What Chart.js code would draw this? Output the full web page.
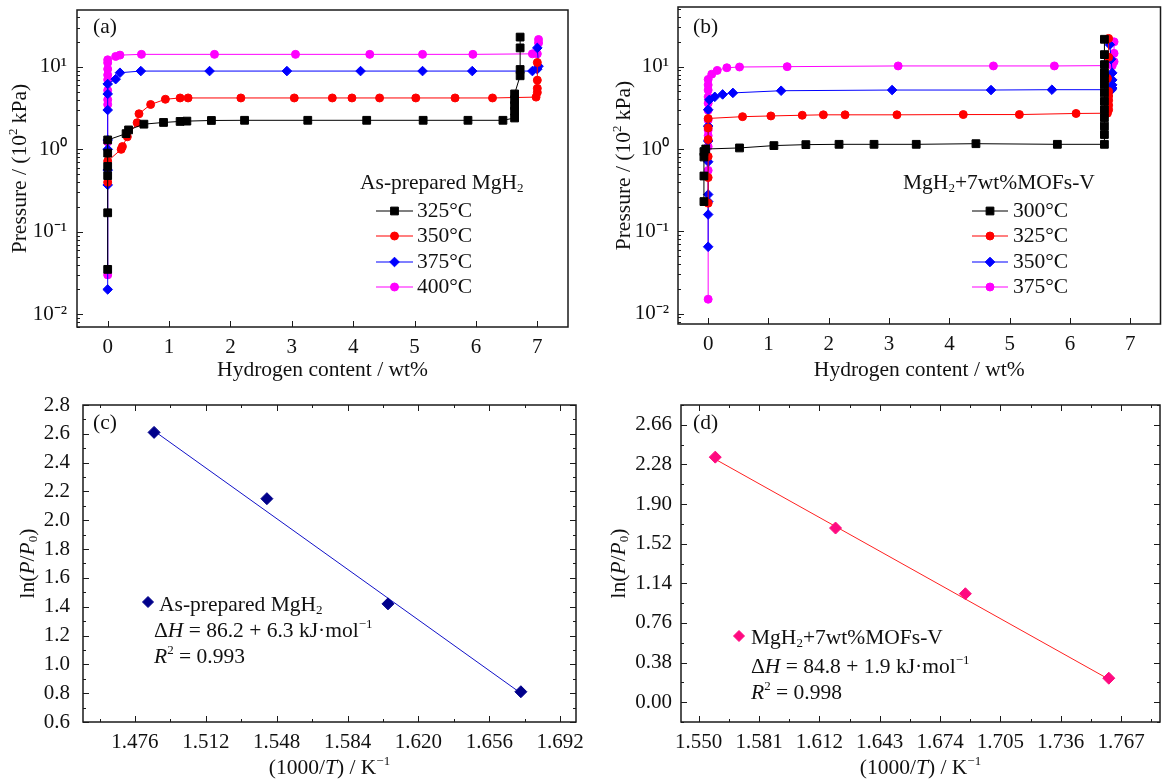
<!DOCTYPE html>
<html>
<head>
<meta charset="utf-8">
<title>PCT curves and van't Hoff plots</title>
<script src="https://cdn.jsdelivr.net/npm/chart.js@4.4.0/dist/chart.umd.min.js"></script>
<style>
  html, body { margin: 0; padding: 0; background: #fff; }
  #wrap { position: relative; width: 1167px; height: 779px; overflow: hidden; }
  .panel { position: absolute; }
  #pa { left: 0; top: 0; width: 583px; height: 390px; }
  #pb { left: 590px; top: 0; width: 577px; height: 390px; }
  #pc { left: 0; top: 390px; width: 583px; height: 389px; }
  #pd { left: 590px; top: 390px; width: 577px; height: 389px; }
</style>
</head>
<body>
<div id="wrap">
  <div class="panel" id="pa"><canvas id="chartA"></canvas></div>
  <div class="panel" id="pb"><canvas id="chartB"></canvas></div>
  <div class="panel" id="pc"><canvas id="chartC"></canvas></div>
  <div class="panel" id="pd"><canvas id="chartD"></canvas></div>
</div>
<script>
// (a) As-prepared MgH2, hydrogen content (wt%) vs pressure (10^2 kPa)
const aLabels = ['325°C', '350°C', '375°C', '400°C'];
const a325x = [0, 0, 0, 0, 0, 0, 0.30, 0.34, 0.59, 0.91, 1.18, 1.29, 1.69, 2.23, 3.26, 4.22, 5.14, 5.87, 6.44, 6.63, 6.63, 6.63, 6.63, 6.63, 6.72, 6.72, 6.72, 6.72];
const a325y = [0.035, 0.17, 0.48, 0.62, 0.9, 1.3, 1.55, 1.72, 2.02, 2.12, 2.18, 2.2, 2.24, 2.25, 2.25, 2.25, 2.25, 2.25, 2.25, 2.4, 2.9, 3.4, 4.0, 4.7, 7.8, 9.3, 17, 23];
const a350x = [0, 0, 0.22, 0.24, 0.32, 0.48, 0.51, 0.70, 0.94, 1.18, 1.31, 2.17, 3.04, 3.66, 3.98, 4.43, 5.02, 5.66, 6.27, 6.98, 7.0, 7.0, 7.0, 7.0];
const a350y = [0.4, 0.72, 1.0, 1.08, 1.42, 2.1, 2.7, 3.5, 4.05, 4.2, 4.2, 4.2, 4.2, 4.2, 4.2, 4.2, 4.2, 4.2, 4.2, 4.3, 4.9, 5.5, 6.9, 11.3];
const a375x = [0, 0, 0, 0, 0, 0, 0, 0, 0.13, 0.20, 0.54, 1.66, 2.92, 4.12, 5.13, 5.94, 6.92, 7.0, 7.02, 7.0];
const a375y = [0.02, 0.37, 0.56, 1.0, 1.3, 3.0, 4.7, 6.2, 7.1, 8.5, 8.9, 8.9, 8.9, 8.9, 8.9, 8.9, 8.9, 9.4, 10.2, 17];
const a400x = [0, 0, 0, 0, 0, 0, 0, 0, 0, 0, 0.13, 0.20, 0.55, 1.74, 3.06, 4.27, 5.13, 5.95, 6.92, 7.0, 7.02, 7.02];
const a400y = [0.03, 1.23, 3.5, 4.0, 5.2, 7.0, 8.0, 9.4, 11.2, 12.2, 13.4, 13.9, 14.2, 14.2, 14.2, 14.2, 14.2, 14.2, 14.4, 14.4, 19.5, 21.5];

// (b) MgH2+7wt%MOFs-V
const bLabels = ['300°C', '325°C', '350°C', '375°C'];
const b300x = [-0.07, -0.07, -0.07, -0.07, -0.04, 0.52, 1.09, 1.62, 2.17, 2.75, 3.45, 4.44, 5.79, 6.57, 6.57, 6.57, 6.57, 6.57, 6.57, 6.57, 6.57, 6.57, 6.57, 6.57, 6.57, 6.57];
const b300y = [0.23, 0.47, 0.8, 0.93, 1.0, 1.03, 1.1, 1.13, 1.14, 1.14, 1.14, 1.16, 1.14, 1.14, 1.5, 1.9, 2.4, 3.0, 3.8, 4.8, 6.0, 7.3, 8.4, 10.6, 14, 21.5];
const b325x = [0, 0, 0, 0, 0, 0, 0.57, 1.04, 1.56, 1.91, 2.27, 3.13, 4.23, 5.16, 6.10, 6.62, 6.64, 6.64, 6.64, 6.64, 6.64, 6.62, 6.64, 6.64];
const b325y = [0.22, 0.45, 0.81, 1.3, 1.8, 2.35, 2.47, 2.52, 2.57, 2.6, 2.6, 2.6, 2.62, 2.62, 2.7, 2.72, 3.0, 3.4, 3.9, 4.4, 5.0, 7.2, 13, 22];
const b350x = [0, 0, 0, 0, 0, 0, 0, 0, 0.02, 0.11, 0.24, 0.41, 1.21, 3.05, 4.69, 5.70, 6.69, 6.70, 6.70, 6.70, 6.70, 6.68, 6.66];
const b350y = [0.065, 0.16, 0.23, 0.28, 0.7, 1.25, 1.9, 3.0, 3.95, 4.3, 4.6, 4.8, 5.1, 5.2, 5.2, 5.25, 5.25, 5.5, 6.0, 6.9, 8.4, 12.3, 18.5];
const b375x = [0, 0, 0, 0, 0, 0, 0, 0, 0, 0, 0, 0, 0.06, 0.15, 0.31, 0.52, 1.31, 3.15, 4.73, 5.74, 6.70, 6.73, 6.73, 6.73];
const b375y = [0.015, 0.55, 1.07, 1.45, 1.7, 2.25, 2.95, 3.6, 4.3, 5.2, 6.0, 7.0, 8.1, 9.0, 9.7, 9.9, 10.0, 10.2, 10.2, 10.2, 10.3, 11.5, 14.5, 20];

// (c) van't Hoff, as-prepared
const cX = [1.4857, 1.5430, 1.6045, 1.6720];
const cY = [2.61, 2.15, 1.42, 0.81];
const cFitX = [1.4857, 1.6720];
const cFitY = [2.62, 0.80];

// (d) van't Hoff, with MOFs-V
const dX = [1.5585, 1.6203, 1.6870, 1.7607];
const dY = [2.35, 1.67, 1.04, 0.23];
const dFitX = [1.5585, 1.7607];
const dFitY = [2.33, 0.22];

// tick labels
const pctXTicks = [0, 1, 2, 3, 4, 5, 6, 7];
const pctYTicks = [0.01, 0.1, 1, 10];
const pctYLabels = ['10⁻²', '10⁻¹', '10⁰', '10¹'];
const cXTicks = [1.476, 1.512, 1.548, 1.584, 1.620, 1.656, 1.692];
const cYTicks = [0.6, 0.8, 1.0, 1.2, 1.4, 1.6, 1.8, 2.0, 2.2, 2.4, 2.6, 2.8];
const dXTicks = [1.550, 1.581, 1.612, 1.643, 1.674, 1.705, 1.736, 1.767];
const dYTicks = [0.00, 0.38, 0.76, 1.14, 1.52, 1.90, 2.28, 2.66];

const FONT = "'Liberation Serif', 'Times New Roman', serif";
const INK = '#111';
const TICK_SIZE = 21;
const TITLE_SIZE = 21.5;
const NOTE_SIZE = 21.5;

function pts(xs, ys) { return xs.map((x, i) => ({ x: x, y: ys[i] })); }

function isMajor(majors, v) {
  return majors.findIndex(m => Math.abs(m - v) <= 1e-9 + 1e-6 * Math.abs(m));
}

function halfSteps(majors, min, max) {
  const h = (majors[1] - majors[0]) / 2;
  const out = [];
  let v = majors[0] - h * Math.floor((majors[0] - min) / h + 1e-9);
  for (; v <= max + 1e-9; v += h) out.push(+v.toFixed(6));
  return out;
}

function logSteps(min, max) {
  const out = [];
  for (let e = -3; e <= 2; e++) {
    for (let m = 1; m <= 9; m++) {
      const v = +(m * Math.pow(10, e)).toPrecision(6);
      if (v >= min * 0.999 && v <= max * 1.001) out.push(v);
    }
  }
  return out;
}

function fixSize(size) {
  return (s) => {
    if (s.isHorizontal()) s.height = size; else s.width = size;
    s.paddingLeft = 0; s.paddingRight = 0; s.paddingTop = 0; s.paddingBottom = 0;
  };
}

function linAxis(pos, min, max, majors, digits, size, pad, minor) {
  return {
    type: 'linear', position: pos, min: min, max: max,
    grid: { display: false, drawTicks: false },
    border: { display: false },
    afterBuildTicks: (s) => {
      const vals = minor ? halfSteps(majors, min, max) : majors;
      s.ticks = vals.map(v => ({ value: v }));
    },
    afterFit: fixSize(size),
    ticks: {
      autoSkip: false, maxRotation: 0, minRotation: 0, padding: pad, color: INK,
      font: { family: FONT, size: TICK_SIZE },
      callback: (v) => isMajor(majors, v) >= 0 ? Number(v).toFixed(digits) : ''
    }
  };
}

function logAxis(min, max, size, pad) {
  return {
    type: 'logarithmic', position: 'left', min: min, max: max,
    grid: { display: false, drawTicks: false },
    border: { display: false },
    afterBuildTicks: (s) => { s.ticks = logSteps(min, max).map(v => ({ value: v })); },
    afterFit: fixSize(size),
    ticks: {
      autoSkip: false, padding: pad, color: INK,
      font: { family: FONT, size: TICK_SIZE },
      callback: (v) => { const i = isMajor(pctYTicks, v); return i >= 0 ? pctYLabels[i] : ''; }
    }
  };
}

// mixed-style text: parts are [text, style] with style '', 'i', 'sub', 'sup'
function partFont(st, size) {
  const small = st === 'sub' || st === 'sup';
  return (st === 'i' ? 'italic ' : '') + (small ? Math.round(size * 0.62) : size) + 'px ' + FONT;
}
function drawRich(ctx, parts, x, y, size, align, angle) {
  ctx.save();
  ctx.translate(x, y);
  if (angle) ctx.rotate(angle);
  ctx.textBaseline = 'middle';
  ctx.textAlign = 'left';
  ctx.fillStyle = INK;
  let total = 0;
  parts.forEach(([t, st]) => { ctx.font = partFont(st, size); total += ctx.measureText(t).width; });
  let cx = align === 'center' ? -total / 2 : 0;
  parts.forEach(([t, st]) => {
    ctx.font = partFont(st, size);
    let dy = 0;
    if (st === 'sub') dy = size * 0.28;
    if (st === 'sup') dy = -size * 0.3;
    ctx.fillText(t, cx, dy);
    cx += ctx.measureText(t).width;
  });
  ctx.restore();
}

function marker(ctx, style, radius, color, x, y) {
  ctx.save();
  ctx.fillStyle = color;
  ctx.strokeStyle = color;
  Chart.helpers.drawPoint(ctx, { pointStyle: style, radius: radius, rotation: 0, borderWidth: 1 }, x, y);
  ctx.restore();
}

// frame, inward ticks, titles, notes
const decorPlugin = {
  id: 'decor',
  afterDraw(chart, args, o) {
    const ctx = chart.ctx;
    const a = chart.chartArea;
    const w = a.right - a.left, h = a.bottom - a.top;
    ctx.save();
    ctx.strokeStyle = '#1a1a1a';
    ctx.lineWidth = 1.5;
    ctx.strokeRect(a.left, a.top, w, h);
    ctx.lineWidth = 1;
    ctx.beginPath();
    const xs = chart.scales.x, ys = chart.scales.y;
    xs.ticks.forEach(t => {
      const p = Math.round(xs.getPixelForValue(t.value)) + 0.5;
      const len = t.label ? 6 : 3;
      ctx.moveTo(p, a.bottom); ctx.lineTo(p, a.bottom - len);
      if (o.mirror) { ctx.moveTo(p, a.top); ctx.lineTo(p, a.top + len); }
    });
    ys.ticks.forEach(t => {
      const p = Math.round(ys.getPixelForValue(t.value)) + 0.5;
      const len = t.label ? 6 : 3;
      ctx.moveTo(a.left, p); ctx.lineTo(a.left + len, p);
      if (o.mirror) { ctx.moveTo(a.right, p); ctx.lineTo(a.right - len, p); }
    });
    ctx.stroke();
    ctx.restore();

    drawRich(ctx, [[o.tag, '']], a.left + o.tagAt[0], a.top + o.tagAt[1], NOTE_SIZE, 'left', 0);
    drawRich(ctx, o.xTitle, a.left + w / 2, a.bottom + o.xTitleDy, TITLE_SIZE, 'center', 0);
    drawRich(ctx, o.yTitle, a.left - o.yTitleDx, a.top + h / 2, TITLE_SIZE, 'center', -Math.PI / 2);

    (o.notes || []).forEach(n => drawRich(ctx, n.parts, a.left + n.at[0], a.top + n.at[1], NOTE_SIZE, 'left', 0));
    if (o.noteMarker) {
      const m = o.noteMarker;
      marker(ctx, 'rectRot', 5.5, m.color, a.left + m.at[0], a.top + m.at[1]);
    }

    if (o.legend) {
      const L = o.legend;
      drawRich(ctx, L.title, a.left + L.titleAt[0], a.top + L.titleAt[1], NOTE_SIZE, 'left', 0);
      chart.data.datasets.forEach((ds, i) => {
        const y = a.top + L.rows[i];
        ctx.save();
        ctx.strokeStyle = ds.borderColor;
        ctx.lineWidth = 1.2;
        ctx.beginPath();
        ctx.moveTo(a.left + L.line[0], y); ctx.lineTo(a.left + L.line[1], y);
        ctx.stroke();
        ctx.restore();
        marker(ctx, ds.pointStyle, ds.pointRadius, ds.pointBackgroundColor, a.left + (L.line[0] + L.line[1]) / 2, y);
        drawRich(ctx, [[ds.label, '']], a.left + L.textX, y, NOTE_SIZE, 'left', 0);
      });
    }
  }
};

function pctSet(label, xs, ys, color, style, radius) {
  return {
    label: label, data: pts(xs, ys),
    borderColor: color, borderWidth: 1, tension: 0,
    pointStyle: style, pointRadius: radius, pointHoverRadius: radius,
    pointBackgroundColor: color, pointBorderColor: color, pointBorderWidth: 1
  };
}

const baseOpts = {
  responsive: true, maintainAspectRatio: false, animation: false, devicePixelRatio: 1,
  plugins: { legend: { display: false }, tooltip: { enabled: false } }
};

const pctXTitle = [['Hydrogen content / wt%', '']];
const pctYTitle = [['Pressure / (10', ''], ['2', 'sup'], [' kPa)', '']];
const vhXTitle = [['(1000/', ''], ['T', 'i'], [') / K', ''], ['−1', 'sup']];
const vhYTitle = [['ln(', ''], ['P', 'i'], ['/', ''], ['P', 'i'], ['0', 'sub'], [')', '']];

new Chart(document.getElementById('chartA'), {
  type: 'line',
  data: {
    datasets: [
      pctSet(aLabels[0], a325x, a325y, '#000000', 'rect', 5.5),
      pctSet(aLabels[1], a350x, a350y, '#ff0000', 'circle', 4),
      pctSet(aLabels[2], a375x, a375y, '#0000ff', 'rectRot', 4.8),
      pctSet(aLabels[3], a400x, a400y, '#ff00ff', 'circle', 4)
    ]
  },
  options: Object.assign({}, baseOpts, {
    layout: { padding: { left: 0, right: 15, top: 10, bottom: 0 } },
    scales: {
      x: linAxis('bottom', -0.5, 7.5, pctXTicks, 0, 63, 8, false),
      y: logAxis(0.007, 49, 77, 10)
    },
    plugins: Object.assign({}, baseOpts.plugins, {
      decor: {
        mirror: false, tag: '(a)', tagAt: [16, 17],
        xTitle: pctXTitle, xTitleDy: 43, yTitle: pctYTitle, yTitleDx: 57,
        legend: {
          title: [['As-prepared MgH', ''], ['2', 'sub']], titleAt: [283, 173],
          line: [299, 336], textX: 340, rows: [201, 226, 252, 277]
        }
      }
    })
  }),
  plugins: [decorPlugin]
});

new Chart(document.getElementById('chartB'), {
  type: 'line',
  data: {
    datasets: [
      pctSet(bLabels[0], b300x, b300y, '#000000', 'rect', 5.5),
      pctSet(bLabels[1], b325x, b325y, '#ff0000', 'circle', 4),
      pctSet(bLabels[2], b350x, b350y, '#0000ff', 'rectRot', 4.8),
      pctSet(bLabels[3], b375x, b375y, '#ff00ff', 'circle', 4)
    ]
  },
  options: Object.assign({}, baseOpts, {
    layout: { padding: { left: 0, right: 0, top: 7, bottom: 0 } },
    scales: {
      x: linAxis('bottom', -0.5, 7.5, pctXTicks, 0, 66, 8, false),
      y: logAxis(0.0075, 53, 88, 9)
    },
    plugins: Object.assign({}, baseOpts.plugins, {
      decor: {
        mirror: false, tag: '(b)', tagAt: [15, 20],
        xTitle: pctXTitle, xTitleDy: 46, yTitle: pctYTitle, yTitleDx: 54,
        legend: {
          title: [['MgH', ''], ['2', 'sub'], ['+7wt%MOFs-V', '']], titleAt: [225, 176],
          line: [294, 330], textX: 335, rows: [204, 229, 255, 280]
        }
      }
    })
  }),
  plugins: [decorPlugin]
});

new Chart(document.getElementById('chartC'), {
  type: 'scatter',
  data: {
    datasets: [
      { label: 'As-prepared MgH2', data: pts(cX, cY), pointStyle: 'rectRot', pointRadius: 6,
        pointBackgroundColor: '#00008b', pointBorderColor: '#00008b', showLine: false },
      { label: 'fit', data: pts(cFitX, cFitY), showLine: true, pointRadius: 0,
        borderColor: '#1010c8', borderWidth: 1 }
    ]
  },
  options: Object.assign({}, baseOpts, {
    layout: { padding: { left: 0, right: 7, top: 15, bottom: 0 } },
    scales: {
      x: linAxis('bottom', 1.4496, 1.70, cXTicks, 3, 57, 8, true),
      y: linAxis('left', 0.6, 2.8, cYTicks, 1, 83, 13, true)
    },
    plugins: Object.assign({}, baseOpts.plugins, {
      decor: {
        mirror: true, tag: '(c)', tagAt: [10, 18],
        xTitle: vhXTitle, xTitleDy: 46, yTitle: vhYTitle, yTitleDx: 55,
        noteMarker: { color: '#00008b', at: [65, 197] },
        notes: [
          { parts: [['As-prepared MgH', ''], ['2', 'sub']], at: [76, 200] },
          { parts: [['Δ', ''], ['H', 'i'], [' = 86.2 + 6.3 kJ·mol', ''], ['−1', 'sup']], at: [71, 226] },
          { parts: [['R', 'i'], ['2', 'sup'], [' = 0.993', '']], at: [71, 252] }
        ]
      }
    })
  }),
  plugins: [decorPlugin]
});

new Chart(document.getElementById('chartD'), {
  type: 'scatter',
  data: {
    datasets: [
      { label: 'MgH2+7wt%MOFs-V', data: pts(dX, dY), pointStyle: 'rectRot', pointRadius: 6,
        pointBackgroundColor: '#ff0a80', pointBorderColor: '#ff0a80', showLine: false },
      { label: 'fit', data: pts(dFitX, dFitY), showLine: true, pointRadius: 0,
        borderColor: '#ff2020', borderWidth: 1 }
    ]
  },
  options: Object.assign({}, baseOpts, {
    layout: { padding: { left: 0, right: 2, top: 15, bottom: 0 } },
    scales: {
      x: linAxis('bottom', 1.5409, 1.787, dXTicks, 3, 57, 8, true),
      y: linAxis('left', -0.19, 2.85, dYTicks, 2, 91, 9, true)
    },
    plugins: Object.assign({}, baseOpts.plugins, {
      decor: {
        mirror: true, tag: '(d)', tagAt: [12, 18],
        xTitle: vhXTitle, xTitleDy: 46, yTitle: vhYTitle, yTitleDx: 62,
        noteMarker: { color: '#ff0a80', at: [58, 231] },
        notes: [
          { parts: [['MgH', ''], ['2', 'sub'], ['+7wt%MOFs-V', '']], at: [70, 233] },
          { parts: [['Δ', ''], ['H', 'i'], [' = 84.8 + 1.9 kJ·mol', ''], ['−1', 'sup']], at: [70, 262] },
          { parts: [['R', 'i'], ['2', 'sup'], [' = 0.998', '']], at: [70, 288] }
        ]
      }
    })
  }),
  plugins: [decorPlugin]
});
</script>
</body>
</html>
